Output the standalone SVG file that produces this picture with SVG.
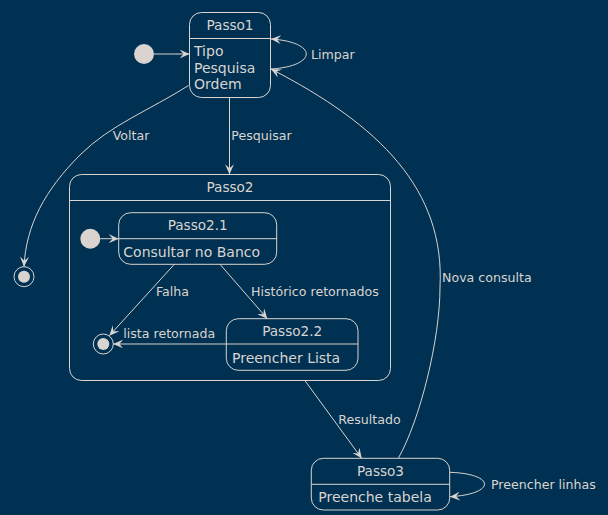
<svg xmlns="http://www.w3.org/2000/svg" width="608" height="515" viewBox="0 0 608 515">
<defs>
<style>
.box{fill:none;stroke:#D9D4CF;stroke-width:1}
.e{fill:none;stroke:#D9D4CF;stroke-width:1}
.t{font-family:"DejaVu Sans",sans-serif;font-size:14px;fill:#D9D4CF}
.c{text-anchor:middle;font-size:13.6px}
.l{font-family:"DejaVu Sans",sans-serif;font-size:12.6px;fill:#D9D4CF}
.dot{fill:#D9D4CF}
</style>
<marker id="a" viewBox="0 0 10 9" refX="10" refY="4.5" markerWidth="10" markerHeight="9" markerUnits="userSpaceOnUse" orient="auto">
<path d="M0,0 L10,4.5 L0,9 L4,4.5 Z" fill="#D9D4CF"/>
</marker>
</defs>
<rect width="608" height="515" fill="#003153"/>

<g id="start1"><circle cx="144" cy="54" r="10" class="dot"/></g>
<g id="Passo1">
<rect x="189.5" y="12.5" width="81" height="85" rx="12" class="box"/>
<line x1="189.5" y1="38.5" x2="270.5" y2="38.5" class="box"/>
<text x="230" y="30" class="t c">Passo1</text>
<text x="194" y="56" class="t">Tipo</text>
<text x="194" y="73" class="t">Pesquisa</text>
<text x="194" y="89" class="t">Ordem</text>
</g>
<g id="end1"><circle cx="24" cy="276.7" r="10" class="box"/><circle cx="24" cy="276.7" r="6" class="dot"/></g>
<g id="Passo2">
<rect x="69.5" y="174.5" width="321" height="206" rx="12" class="box"/>
<line x1="69.5" y1="200.5" x2="390.5" y2="200.5" class="box"/>
<text x="230" y="192" class="t c">Passo2</text>
</g>
<g id="start2"><circle cx="90.3" cy="238.7" r="10" class="dot"/></g>
<g id="Passo2.1">
<rect x="118.7" y="212.7" width="158" height="51.6" rx="12" class="box"/>
<line x1="118.7" y1="238.7" x2="276.7" y2="238.7" class="box"/>
<text x="197.7" y="230" class="t c">Passo2.1</text>
<text x="123.3" y="256.7" class="t">Consultar no Banco</text>
</g>
<g id="Passo2.2">
<rect x="226.3" y="318.7" width="131.7" height="51.6" rx="12" class="box"/>
<line x1="226.3" y1="344" x2="358" y2="344" class="box"/>
<text x="292.2" y="336" class="t c">Passo2.2</text>
<text x="232" y="363.3" class="t">Preencher Lista</text>
</g>
<g id="end2"><circle cx="103.3" cy="344" r="10" class="box"/><circle cx="103.3" cy="344" r="6" class="dot"/></g>
<g id="Passo3">
<rect x="311.3" y="458.3" width="138.4" height="51.7" rx="12" class="box"/>
<line x1="311.3" y1="484.3" x2="449.7" y2="484.3" class="box"/>
<text x="380.5" y="476" class="t c">Passo3</text>
<text x="318.3" y="501.7" class="t">Preenche tabela</text>
</g>

<g id="edges">
<path d="M154,54 L189.5,54" class="e" marker-end="url(#a)"/>
<path d="M271,69 C318,66 318,42 271,39" class="e" marker-end="url(#a)"/>
<path d="M229.5,97.5 L229.5,174.3" class="e" marker-end="url(#a)"/>
<path d="M188.5,85.5 C150,110 110,125 80,155 C45,190 26,225 24,266.7" class="e" marker-end="url(#a)"/>
<path d="M100.3,238.7 L118.7,238.7" class="e" marker-end="url(#a)"/>
<path d="M174.3,264.3 L109.3,335.7" class="e" marker-end="url(#a)"/>
<path d="M220,264.3 L267.3,318.7" class="e" marker-end="url(#a)"/>
<path d="M226.3,344 L113.3,344" class="e" marker-end="url(#a)"/>
<path d="M305,380.7 L361.7,458.3" class="e" marker-end="url(#a)"/>
<path d="M450,472.3 C496,474 496,494 450,496.7" class="e" marker-end="url(#a)"/>
<path d="M398.3,458.3 C420,420 440,340 440,287 C445,190 380,125 271,69" class="e" marker-end="url(#a)"/>
<text x="311" y="59.3" class="l">Limpar</text>
<text x="112.7" y="140" class="l">Voltar</text>
<text x="231.3" y="140" class="l">Pesquisar</text>
<text x="156" y="296" class="l">Falha</text>
<text x="251" y="296" class="l">Histórico retornados</text>
<text x="123.3" y="337.7" class="l">lista retornada</text>
<text x="338.3" y="423.7" class="l">Resultado</text>
<text x="491" y="489" class="l">Preencher linhas</text>
<text x="442" y="282" class="l">Nova consulta</text>
</g>
</svg>
